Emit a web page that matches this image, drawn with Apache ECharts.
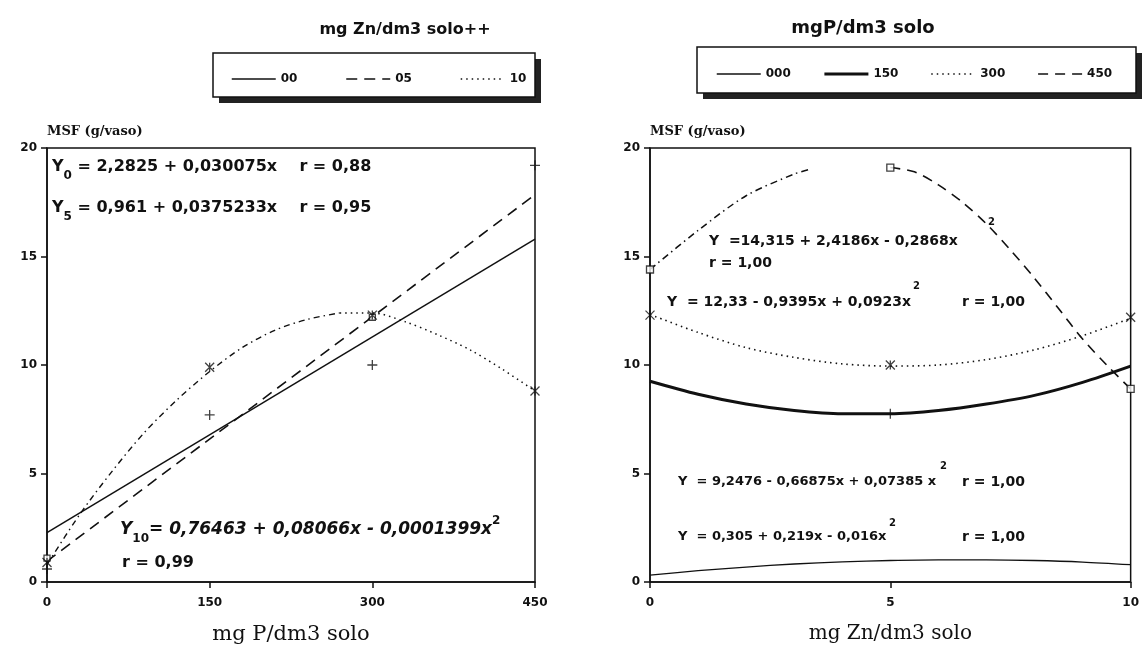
<!DOCTYPE html>
<html>
<head>
<meta charset="utf-8">
<script src="https://cdn.jsdelivr.net/npm/echarts@6/dist/echarts.min.js"></script>
<style>
  html, body { margin: 0; padding: 0; background: #fff; }
  #chart { width: 1142px; height: 651px; }
</style>
</head>
<body>
<div id="chart"></div>
<script>
// ---- Left panel: dry matter (MSF, g/vaso) against P dose, one curve per Zn dose ----
const pTicks = [0, 150, 300, 450];
const yTicks = [0, 5, 10, 15, 20];

// fitted curves
const zn00Fit = [[0, 2.28], [450, 15.8]];
const zn05Fit = [[0, 0.96], [450, 17.85]];
const zn10FitA = [[0, 0.8], [30, 3.1], [60, 5.1], [90, 6.9], [120, 8.4], [150, 9.7], [180, 10.8], [210, 11.6], [240, 12.1], [270, 12.4]];
const zn10FitB = [[270, 12.4], [300, 12.4], [330, 12.0], [360, 11.4], [390, 10.7], [420, 9.8], [450, 8.8]];

// observed means
const zn00Obs = [[0, 0.6], [150, 7.7], [300, 10.0], [450, 19.2]];
const zn05Obs = [[0, 1.1], [300, 12.2]];
const zn10Obs = [[0, 0.9], [150, 9.9], [300, 12.3], [450, 8.8]];

// ---- Right panel: MSF against Zn dose, one curve per P dose ----
const znTicks = [0, 5, 10];
const znDoses = [0, 1, 2, 3, 4, 5, 6, 7, 8, 9, 10];
const p000Fit = [0.32, 0.52, 0.69, 0.83, 0.93, 0.99, 1.02, 1.02, 0.99, 0.92, 0.8];
const p150Fit = [9.25, 8.65, 8.2, 7.9, 7.75, 7.75, 7.9, 8.2, 8.6, 9.2, 9.95];
const p300Fit = [12.33, 11.5, 10.8, 10.35, 10.05, 9.95, 10.0, 10.25, 10.7, 11.35, 12.15];
const p450FitA = [[0, 14.4], [1, 16.2], [2, 17.8], [3, 18.8], [3.3, 19.0]];
const p450FitB = [[5, 19.1], [5.5, 18.9], [6, 18.3], [6.5, 17.5], [7, 16.5], [7.5, 15.3], [8, 14.0], [8.5, 12.6], [9, 11.2], [9.5, 10.0], [10, 8.9]];

const p150Obs = [[5, 7.75]];
const p300Obs = [[0, 12.3], [5, 10.0], [10, 12.2]];
const p450Obs = [[0, 14.4], [5, 19.1], [10, 8.9]];

const zip = (xs, ys) => xs.map((x, i) => [x, ys[i]]);

const INK = '#111';
const PLUS = 'path://M5,0V10M0,5H10';
const STAR = 'path://M0,0L10,10M10,0L0,10M5,0V10';
const SANS = '"DejaVu Sans"';
const labelFont = { color: INK, fontFamily: 'DejaVu Sans', fontWeight: 'bold', fontSize: 12 };

function valueAxis(grid, min, max, interval, name, nameSize) {
  return {
    type: 'value', gridIndex: grid, min, max, interval,
    name, nameLocation: 'middle', nameGap: 42,
    nameTextStyle: { color: INK, fontFamily: 'DejaVu Serif', fontSize: nameSize },
    axisLine: { show: true, lineStyle: { color: INK, width: 1.5 } },
    axisTick: { show: true, inside: false, length: 6, lineStyle: { color: INK, width: 1.5 } },
    axisLabel: Object.assign({ margin: 15 }, labelFont),
    splitLine: { show: false }
  };
}
function yAxis(grid) {
  return {
    type: 'value', gridIndex: grid, min: yTicks[0], max: yTicks[yTicks.length - 1], interval: yTicks[1] - yTicks[0],
    axisLine: { show: true, lineStyle: { color: INK, width: 1.5 } },
    axisTick: { show: true, length: 6, lineStyle: { color: INK, width: 1.5 } },
    axisLabel: Object.assign({ margin: 10 }, labelFont),
    splitLine: { show: false }
  };
}
function curve(name, ax, data, width, type) {
  return {
    name, type: 'line', xAxisIndex: ax, yAxisIndex: ax, data,
    symbol: 'none', smooth: 0.3, silent: true,
    color: INK,
    itemStyle: { color: INK, opacity: 0 },
    lineStyle: { color: INK, width, type }
  };
}
function marks(name, ax, data, symbol, size, fill) {
  return {
    name, type: 'scatter', xAxisIndex: ax, yAxisIndex: ax, data,
    symbol, symbolSize: size, silent: true, z: 4,
    itemStyle: { color: fill || INK, borderColor: INK, borderWidth: 1.3 }
  };
}
function txt(x, y, text, font, extra) {
  return {
    type: 'text', x, y, z: 10,
    style: Object.assign({ text, font, fill: INK, align: 'left', verticalAlign: 'middle' }, extra || {})
  };
}
function eqRich(size) {
  const sub = Math.round(size * 0.72);
  return {
    m: { font: 'bold ' + size + 'px ' + SANS, fill: INK, lineHeight: 30, verticalAlign: 'middle' },
    s: { font: 'bold ' + sub + 'px ' + SANS, fill: INK, lineHeight: 30, verticalAlign: 'bottom' },
    i: { font: 'italic bold ' + size + 'px ' + SANS, fill: INK, lineHeight: 30, verticalAlign: 'middle' },
    u: { font: 'bold ' + sub + 'px ' + SANS, fill: INK, lineHeight: 30, verticalAlign: 'top' }
  };
}
const EQ = 'bold 14px ' + SANS;
const EQ_S = 'bold 13px ' + SANS;
const SUP = 'bold 10px ' + SANS;
const legendItem = (name, width) => ({ name, lineStyle: { width } });

const chart = echarts.init(document.getElementById('chart'), null, { renderer: 'canvas' });

chart.setOption({
  animation: false,
  backgroundColor: '#fff',
  grid: [
    { left: 47, top: 148, width: 488, height: 434, show: true, borderColor: INK, borderWidth: 1.5, backgroundColor: 'transparent' },
    { left: 650, top: 148, width: 486, height: 434, show: true, borderColor: INK, borderWidth: 1.5, backgroundColor: 'transparent' }
  ],
  xAxis: [
    valueAxis(0, pTicks[0], pTicks[pTicks.length - 1], pTicks[1] - pTicks[0], 'mg P/dm3 solo', 21),
    valueAxis(1, znTicks[0], znTicks[znTicks.length - 1], znTicks[1] - znTicks[0], 'mg Zn/dm3 solo', 20)
  ],
  yAxis: [yAxis(0), yAxis(1)],
  legend: [
    {
      data: [legendItem('00', 1.5), legendItem('05', 1.6), legendItem('10', 1.5)],
      left: 226, top: 68, z: 5,
      itemWidth: 44, itemHeight: 12, itemGap: 48, selectedMode: false,
      itemStyle: { opacity: 0 },
      textStyle: labelFont
    },
    {
      data: [legendItem('000', 1.5), legendItem('150', 3.2), legendItem('300', 1.6), legendItem('450', 1.6)],
      left: 711, top: 63, z: 5,
      itemWidth: 44, itemHeight: 12, itemGap: 32, selectedMode: false,
      itemStyle: { opacity: 0 },
      textStyle: labelFont
    }
  ],
  series: [
    curve('00', 0, zn00Fit, 1.5, 'solid'),
    curve('05', 0, zn05Fit, 1.6, [11, 7]),
    curve('10', 0, zn10FitB, 1.5, [1.5, 4]),
    curve('10a', 0, zn10FitA, 1.4, [6, 4, 1.5, 4]),
    marks('obs00', 0, zn00Obs, PLUS, 10),
    marks('obs05', 0, zn05Obs, 'rect', 6, '#fff'),
    marks('obs10', 0, zn10Obs, STAR, 9),

    curve('000', 1, zip(znDoses, p000Fit), 1.3, 'solid'),
    curve('150', 1, zip(znDoses, p150Fit), 3, 'solid'),
    curve('300', 1, zip(znDoses, p300Fit), 1.6, [1.5, 4]),
    curve('450', 1, p450FitB, 1.6, [10, 7]),
    curve('450a', 1, p450FitA, 1.5, [7, 4, 1.5, 4]),
    marks('obs150', 1, p150Obs, PLUS, 10),
    marks('obs300', 1, p300Obs, STAR, 9),
    marks('obs450', 1, p450Obs, 'rect', 7, '#fff')
  ],
  graphic: [
    // legend frames with drop shadow
    { type: 'rect', z: 1, shape: { x: 219, y: 59, width: 322, height: 44 }, style: { fill: '#222' } },
    { type: 'rect', z: 2, shape: { x: 213, y: 53, width: 322, height: 44 }, style: { fill: '#fff', stroke: INK, lineWidth: 1.5 } },
    { type: 'rect', z: 1, shape: { x: 703, y: 53, width: 439, height: 46 }, style: { fill: '#222' } },
    { type: 'rect', z: 2, shape: { x: 697, y: 47, width: 439, height: 46 }, style: { fill: '#fff', stroke: INK, lineWidth: 1.5 } },

    // legend titles and y-axis captions
    txt(405, 30, 'mg Zn/dm3 solo++', 'bold 16px ' + SANS, { align: 'center' }),
    txt(863, 28, 'mgP/dm3 solo', 'bold 18px ' + SANS, { align: 'center' }),
    txt(47, 132, 'MSF (g/vaso)', 'bold 13px "DejaVu Serif"'),
    txt(650, 132, 'MSF (g/vaso)', 'bold 13px "DejaVu Serif"'),

    // regression equations, left panel
    txt(52, 167, '{m|Y}{s|0}{m| = 2,2825 + 0,030075x    r = 0,88}', null, { rich: eqRich(16) }),
    txt(52, 208, '{m|Y}{s|5}{m| = 0,961 + 0,0375233x    r = 0,95}', null, { rich: eqRich(16) }),
    txt(120, 530, '{i|Y}{s|10}{i|= 0,76463 + 0,08066x - 0,0001399x}{u|2}', null, { rich: eqRich(17) }),
    txt(122, 563, 'r = 0,99', 'bold 16px ' + SANS),

    // regression equations, right panel
    txt(709, 241, 'Y  =14,315 + 2,4186x - 0,2868x', EQ),
    txt(988, 222, '2', SUP),
    txt(709, 263, 'r = 1,00', EQ),
    txt(667, 302, 'Y  = 12,33 - 0,9395x + 0,0923x', EQ),
    txt(913, 286, '2', SUP),
    txt(962, 302, 'r = 1,00', EQ),
    txt(678, 482, 'Y  = 9,2476 - 0,66875x + 0,07385 x', EQ_S),
    txt(940, 466, '2', SUP),
    txt(962, 482, 'r = 1,00', EQ),
    txt(678, 537, 'Y  = 0,305 + 0,219x - 0,016x', EQ_S),
    txt(889, 523, '2', SUP),
    txt(962, 537, 'r = 1,00', EQ)
  ]
});
</script>
</body>
</html>
